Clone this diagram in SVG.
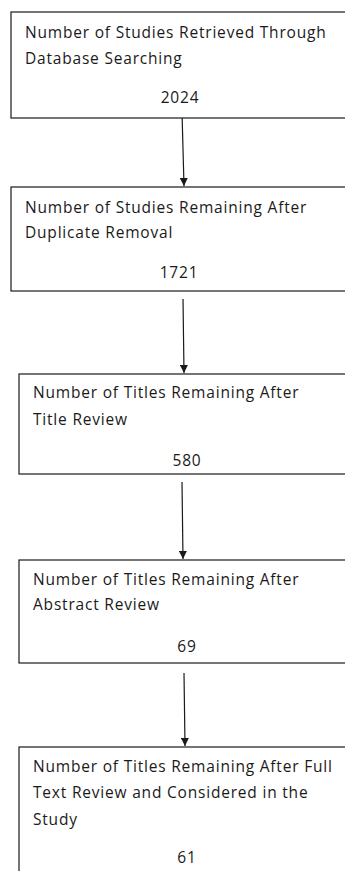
<svg xmlns="http://www.w3.org/2000/svg" width="345" height="871" viewBox="0 0 345 871">
  <style>
    .box { fill: #ffffff; stroke: #1a1a1a; stroke-width: 1.2; }
    .lbl { font-family: "Open Sans", "Liberation Sans", sans-serif; font-size: 15.5px; letter-spacing: 0.8px; fill: #1a1a1a; }
    .num { text-anchor: middle; }
    .edge { stroke: #1a1a1a; stroke-width: 1.2; fill: none; marker-end: url(#arrow); }
  </style>
  <defs>
    <marker id="arrow" markerWidth="9" markerHeight="8" refX="8" refY="4" orient="auto" markerUnits="userSpaceOnUse">
      <path d="M0,0 L8,4 L0,8 Z" fill="#1a1a1a"/>
    </marker>
  </defs>
  <rect width="345" height="871" fill="#ffffff"/>

  <g id="connectors">
    <line class="edge" x1="182" y1="112" x2="184" y2="186"/>
    <line class="edge" x1="183" y1="299" x2="184" y2="373"/>
    <line class="edge" x1="182" y1="482" x2="183" y2="559"/>
    <line class="edge" x1="184" y1="673" x2="185" y2="746"/>
  </g>

  <g id="retrieved">
    <rect class="box" x="11" y="12" width="345" height="106"/>
    <text class="lbl" x="25" y="38">Number of Studies Retrieved Through</text>
    <text class="lbl" x="25" y="64">Database Searching</text>
    <text class="lbl num" x="180" y="103">2024</text>
  </g>

  <g id="deduplicated">
    <rect class="box" x="11" y="187" width="345" height="104"/>
    <text class="lbl" x="25" y="213">Number of Studies Remaining After</text>
    <text class="lbl" x="25" y="238">Duplicate Removal</text>
    <text class="lbl num" x="179" y="278">1721</text>
  </g>

  <g id="title-review">
    <rect class="box" x="19" y="374" width="345" height="100"/>
    <text class="lbl" x="33" y="398">Number of Titles Remaining After</text>
    <text class="lbl" x="33" y="425">Title Review</text>
    <text class="lbl num" x="187" y="466">580</text>
  </g>

  <g id="abstract-review">
    <rect class="box" x="19" y="560" width="345" height="103"/>
    <text class="lbl" x="33" y="585">Number of Titles Remaining After</text>
    <text class="lbl" x="33" y="610">Abstract Review</text>
    <text class="lbl num" x="187" y="652">69</text>
  </g>

  <g id="full-text-review">
    <rect class="box" x="19" y="747" width="345" height="140"/>
    <text class="lbl" x="33" y="772">Number of Titles Remaining After Full</text>
    <text class="lbl" x="33" y="798">Text Review and Considered in the</text>
    <text class="lbl" x="33" y="825">Study</text>
    <text class="lbl num" x="187" y="863">61</text>
  </g>
</svg>
